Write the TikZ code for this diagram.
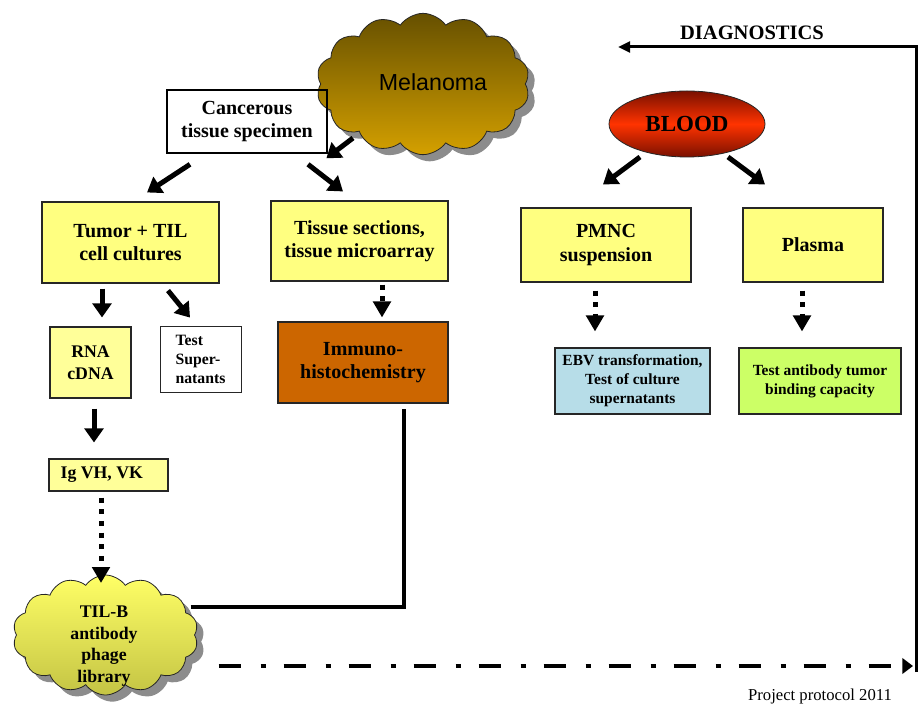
\documentclass[tikz,border=0pt]{standalone}
\usepackage{fontspec}
\setmainfont{Liberation Serif}
\newfontfamily\arialfont{Liberation Sans}
\usetikzlibrary{arrows.meta,shapes.geometric,shapes.symbols,shadows,calc}
\definecolor{boxyellow}{HTML}{FFFF80}
\definecolor{paleyellow}{HTML}{FFFF99}
\definecolor{immunocol}{HTML}{CC6600}
\definecolor{ebvcol}{HTML}{B7DDE8}
\definecolor{testabcol}{HTML}{CCFF66}
\definecolor{melTop}{HTML}{665000}
\definecolor{melBot}{HTML}{D4A000}
\definecolor{tilTop}{HTML}{FFFF66}
\definecolor{tilBot}{HTML}{C4C444}
\definecolor{bloodMid}{HTML}{FF3300}
\definecolor{bloodEdge}{HTML}{7A1000}
\begin{document}
\begin{tikzpicture}[x=0.75pt,y=-0.75pt,
  bx/.style={draw=black!85, line width=0.8pt, align=center, inner sep=2pt},
  bigtxt/.style={font=\fontsize{15}{17.5}\selectfont\bfseries},
  medtxt/.style={font=\fontsize{13.3}{16.3}\selectfont\bfseries},
  smalltxt/.style={font=\fontsize{11.6}{14.2}\selectfont\bfseries},
  bigarrow/.style={line width=3.75pt, -{Triangle[length=10.5pt,width=14pt]}},
  dotarrow/.style={line width=3.75pt, dash pattern=on 3.75pt off 5pt, -{Triangle[length=12pt,width=13pt]}},
  cloudshape/.style={cloud, cloud puffs=14, cloud puff arc=110, cloud ignores aspect, draw=black!85, line width=0.6pt,
     drop shadow={shadow xshift=5pt, shadow yshift=-5pt, fill=black!50, opacity=0.9}},
  conn/.style={line width=2.4pt},
]
\useasboundingbox (0,0) rectangle (921,705);

% clouds
\node[cloudshape, minimum width=160pt, minimum height=106pt, top color=melTop, bottom color=melBot] (melcloud) at (423,84) {};
\node[font=\arialfont\fontsize{17.4}{20}\selectfont] (meltext) at (433,82) {Melanoma};

\node[cloudshape, minimum width=139pt, minimum height=90pt, top color=tilTop, bottom color=tilBot] (tilb) at (105.5,635) {};
\node[medtxt, align=center] (tilbtext) at (104,646) {TIL-B\\antibody\\phage\\library};

% left column
\node[draw=black, line width=2pt, minimum width=120pt, minimum height=47.25pt, align=center, bigtxt] (canc) at (247,121.5) {Cancerous\\tissue specimen};
\node[bx, bigtxt, fill=boxyellow, minimum width=132.75pt, minimum height=60.75pt] (tumor) at (130.5,242.5) {Tumor + TIL\\cell cultures};
\node[bx, bigtxt, fill=boxyellow, minimum width=132.75pt, minimum height=60pt] (tissue) at (359.5,241) {Tissue sections,\\tissue microarray};
\node[bx, medtxt, fill=paleyellow, minimum width=60.75pt, minimum height=53.25pt] (rna) at (90.5,362.5) {RNA\\cDNA};
\node[draw=black!85, line width=0.6pt, align=left, font=\fontsize{11.8}{14.2}\selectfont\bfseries, minimum width=60.75pt, minimum height=49.5pt] (testsup) at (200.5,359) {Test\\Super-\\natants};
\node[bx, bigtxt, fill=immunocol, minimum width=127.5pt, minimum height=60.75pt] (immuno) at (363,362.5) {Immuno-\\histochemistry};
\node[bx, medtxt, fill=paleyellow, minimum width=89.25pt, minimum height=24pt] (ig) at (108.5,475) {\hspace*{-10pt}Ig VH, VK};

% right side
\node[ellipse, draw=black!85, line width=0.6pt, minimum width=117pt, minimum height=49.5pt, inner sep=0pt,
  top color=bloodEdge, bottom color=bloodEdge, middle color=bloodMid,
  font=\fontsize{17.25}{20}\selectfont\bfseries] (blood) at (687,124) {BLOOD};
\node[bx, bigtxt, fill=boxyellow, minimum width=127.5pt, minimum height=55.5pt] (pmnc) at (606,245) {PMNC\\suspension};
\node[bx, bigtxt, fill=boxyellow, minimum width=105pt, minimum height=55.5pt] (plasma) at (813,245) {Plasma};
\node[bx, smalltxt, fill=ebvcol, minimum width=116.25pt, minimum height=49.5pt] (ebv) at (632.5,381) {EBV transformation,\\Test of culture\\supernatants};
\node[bx, smalltxt, fill=testabcol, minimum width=121.5pt, minimum height=49.5pt] (testab) at (820,381) {Test antibody tumor\\binding capacity};

\node[font=\fontsize{15.4}{18}\selectfont\bfseries] (diag) at (752,33) {DIAGNOSTICS};
\node[font=\fontsize{12.5}{15}\selectfont] (proj) at (820,696) {Project protocol 2011};

% arrows
\draw[bigarrow] ($(canc.south)+(-57,10)$) -- ($(tumor.north)+(16.5,-9)$);
\draw[bigarrow] ($(canc.south)+(61,10)$) -- ($(tissue.north)+(-16.5,-9)$);
\draw[bigarrow] ($(melcloud.center)+(-70,54)$) -- ($(canc.south east)+(-2,4)$);
\draw[bigarrow] ($(tumor.south)+(-28.5,5)$) -- ($(rna.north)+(11.5,-9)$);
\draw[bigarrow] ($(tumor.south)+(37.5,7)$) -- ($(testsup.north)+(-10.5,-8)$);
\draw[dotarrow] ($(tissue.south)+(22.5,3)$) -- ($(immuno.north)+(19,-4)$);
\draw[bigarrow] ($(rna.south)+(3.5,10)$) -- ($(ig.north)+(-14.5,-16)$);
\draw[dotarrow] ($(ig.south)+(-7.5,6)$) -- ($(tilb.center)+(-4.5,-52)$);
\draw[conn] ($(tilb.center)+(85,-28)$) -| ($(immuno.south)+(41,5)$);

\draw[bigarrow] ($(blood.center)+(-47,33)$) -- ($(pmnc.north)+(-3,-23)$);
\draw[bigarrow] ($(blood.center)+(41,33)$) -- ($(plasma.north)+(-48,-23)$);
\draw[dotarrow] ($(pmnc.south)+(-11,8)$) -- ($(ebv.north)+(-37.5,-16)$);
\draw[dotarrow] ($(plasma.south)+(-11,8)$) -- ($(testab.north)+(-18,-16)$);

% diagnostics loop
\coordinate (ddend) at (913,666);
\coordinate (diagbot) at (916,672);
\coordinate (diagtop) at (916,47);
\coordinate (diagtip) at (618,47);
\draw[line width=3.5pt, dash pattern=on 16.5pt off 15pt on 3.75pt off 13.5pt, -{Triangle[length=8pt,width=11.5pt]}]
  ($(tilb.center)+(113,31)$) -- (ddend);
\draw[line width=2.25pt, -{Triangle[length=9pt,width=8pt]}] (diagbot) -- (diagtop) -- (diagtip);
\end{tikzpicture}
\end{document}
